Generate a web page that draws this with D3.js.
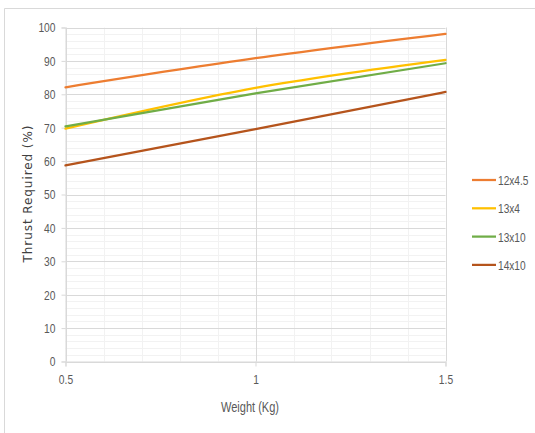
<!DOCTYPE html>
<html><head><meta charset="utf-8">
<script src="https://cdn.jsdelivr.net/npm/d3@7"></script>
<style>
html,body{margin:0;padding:0;background:#fff;}
svg{display:block;}
</style></head>
<body>
<svg id="c" width="535" height="433"></svg>
<script>
const weights = [0.5, 1.0, 1.5];
const seriesNames = ["12x4.5", "13x4", "13x10", "14x10"];
const s12x45 = [82.1, 90.8, 98.1];
const s13x4 = [69.7, 81.9, 90.3];
const s13x10 = [70.4, 80.3, 89.3];
const s14x10 = [58.7, 69.6, 80.7];
const seriesColors = ["#ed7d31", "#ffc000", "#70ad47", "#b5541c"];
const yTicks = [0,10,20,30,40,50,60,70,80,90,100];
const xTicks = [0.5, 1, 1.5];
const xTickLabels = ["0.5", "1", "1.5"];

const seriesValues = [s12x45, s13x4, s13x10, s14x10];
const svg = d3.select("#c");
const font = "'Liberation Sans',Arial,sans-serif";
function condense(sel, f){
  sel.each(function(){
    const w = this.getComputedTextLength();
    d3.select(this).attr("textLength", w*f).attr("lengthAdjust","spacingAndGlyphs");
  });
}

// chart border
svg.append("path").attr("d","M4.5,433 L4.5,8.5 L535,8.5").attr("fill","none").attr("stroke","#d9d9d9").attr("stroke-width",1);

const x = d3.scaleLinear().domain([0.5,1.5]).range([65.5,445.5]);
const y = d3.scaleLinear().domain([0,100]).range([361.5,27.5]);

// minor grid
const g = svg.append("g");
d3.range(0,100,2).filter(v=>v%10!==0).forEach(v=>{
  g.append("line").attr("x1",x(0.5)).attr("x2",x(1.5)).attr("y1",Math.round(y(v))+0.5).attr("y2",Math.round(y(v))+0.5).attr("stroke","#f2f2f2");
});
d3.range(6,15).map(v=>v/10).filter(v=>Math.abs(v-1)>1e-6).forEach(v=>{
  g.append("line").attr("y1",y(0)).attr("y2",y(100)).attr("x1",Math.round(x(v))+0.5).attr("x2",Math.round(x(v))+0.5).attr("stroke","#f2f2f2");
});
// major grid
yTicks.forEach(v=>{
  g.append("line").attr("x1",x(0.5)).attr("x2",x(1.5)).attr("y1",Math.round(y(v))+0.5).attr("y2",Math.round(y(v))+0.5).attr("stroke","#d9d9d9");
});
xTicks.forEach(v=>{
  g.append("line").attr("y1",y(0)).attr("y2",y(100)).attr("x1",Math.round(x(v))+0.5).attr("x2",Math.round(x(v))+0.5).attr("stroke","#d9d9d9");
});

// axes
const yAxis = d3.axisLeft(y).tickValues(yTicks).tickSize(4).tickPadding(6);
const ya = svg.append("g").attr("transform","translate(65.5,0)").call(yAxis);
ya.select(".domain").attr("stroke","#d9d9d9");
ya.selectAll(".tick line").attr("stroke","#d9d9d9");
ya.selectAll("text").attr("fill","#595959").style("font-family",font).style("font-size","13.5px");
condense(ya.selectAll("text"), 0.76);

const xAxis = d3.axisBottom(x).tickValues(xTicks).tickFormat((d,i)=>xTickLabels[i]).tickSize(5).tickPadding(8);
const xa = svg.append("g").attr("transform","translate(0,361.5)").call(xAxis);
xa.select(".domain").attr("stroke","#d9d9d9");
xa.selectAll(".tick line").attr("stroke","#d9d9d9");
xa.selectAll("text").attr("fill","#595959").style("font-family",font).style("font-size","13.5px");
condense(xa.selectAll("text"), 0.76);

// axis titles
const xt = svg.append("text").attr("x",250).attr("y",411.5).attr("text-anchor","middle").attr("fill","#595959")
  .style("font-family",font).style("font-size","14px").text("Weight (Kg)");
xt.attr("textLength",58).attr("lengthAdjust","spacingAndGlyphs");
svg.append("text").attr("transform","translate(32,194) rotate(-90)").attr("text-anchor","middle").attr("fill","#404040")
  .style("font-family","'DejaVu Sans',Verdana,sans-serif").style("font-size","12px")
  .attr("textLength",137).attr("lengthAdjust","spacing").text("Thrust Required (%)");

// lines
const line = d3.line().x((d,i)=>x(weights[i])).y(d=>y(d)).curve(d3.curveMonotoneX);
seriesValues.forEach((vals,i)=>{
  svg.append("path").datum(vals).attr("d",line).attr("fill","none")
    .attr("stroke",seriesColors[i]).attr("stroke-width",2.25).attr("stroke-linecap","round");
});

// legend
const leg = d3.scaleLinear().domain([0,1]).range([180,208.3]);
seriesNames.forEach((n,i)=>{
  const ly = leg(i);
  svg.append("line").attr("x1",472).attr("x2",496).attr("y1",ly).attr("y2",ly).attr("stroke",seriesColors[i]).attr("stroke-width",2.25);
  svg.append("text").attr("transform",`translate(498,${ly+5}) scale(0.75,1)`).attr("fill","#595959")
    .style("font-family",font).style("font-size","13.5px").text(n);
});
</script>
</body></html>
